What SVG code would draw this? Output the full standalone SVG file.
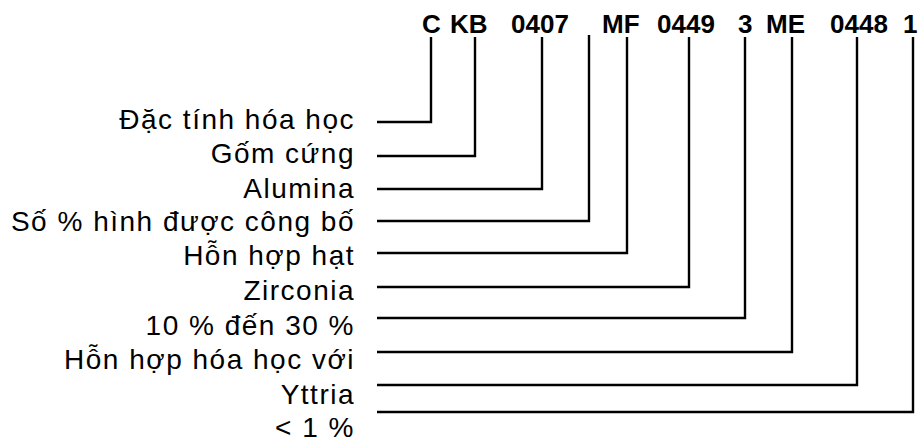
<svg xmlns="http://www.w3.org/2000/svg" width="919" height="443" viewBox="0 0 919 443">
  <style>
    .code { font-family: "Liberation Sans", Arial, sans-serif; font-size: 26px; font-weight: bold; fill: #000; }
    .lbl { font-family: "Liberation Sans", Arial, sans-serif; font-size: 28px; fill: #000; letter-spacing: 1.5px; text-anchor: end; }
    .wire { fill: none; stroke: #000; stroke-width: 2.4; stroke-linejoin: miter; }
  </style>
  <rect width="919" height="443" fill="#fff"/>

  <!-- designation code segments -->
  <g id="code">
    <text class="code" x="422" y="33">C</text>
    <text class="code" x="450" y="33">KB</text>
    <text class="code" x="511" y="33">0407</text>
    <text class="code" x="602" y="33">MF</text>
    <text class="code" x="657" y="33">0449</text>
    <text class="code" x="738" y="33">3</text>
    <text class="code" x="766" y="33">ME</text>
    <text class="code" x="830" y="33">0448</text>
    <text class="code" x="903" y="33">1</text>
  </g>

  <!-- meaning labels -->
  <g id="n1"><text class="lbl" x="355" y="129">Đặc tính hóa học</text></g>
  <g id="n2"><text class="lbl" x="355" y="163">Gốm cứng</text></g>
  <g id="n3"><text class="lbl" x="355" y="198">Alumina</text></g>
  <g id="n4"><text class="lbl" x="355" y="231">Số % hình được công bố</text></g>
  <g id="n5"><text class="lbl" x="355" y="265">Hỗn hợp hạt</text></g>
  <g id="n6"><text class="lbl" x="355" y="300">Zirconia</text></g>
  <g id="n7"><text class="lbl" x="355" y="335">10 % đến 30 %</text></g>
  <g id="n8"><text class="lbl" x="355" y="369">Hỗn hợp hóa học với</text></g>
  <g id="n9"><text class="lbl" x="355" y="404">Yttria</text></g>
  <g id="n10"><text class="lbl" x="355" y="437">&lt; 1 %</text></g>

  <!-- elbow connectors from each code segment to its label -->
  <g id="connectors" class="wire">
    <path d="M377 122 H431 V37"/>
    <path d="M377 156 H475 V37"/>
    <path d="M377 189 H542 V37"/>
    <path d="M377 221 H589 V35"/>
    <path d="M377 253 H627 V37"/>
    <path d="M377 287 H689 V37"/>
    <path d="M377 318 H745 V37"/>
    <path d="M377 352 H792 V37"/>
    <path d="M377 385 H857 V37"/>
    <path d="M377 412 H913 V37"/>
  </g>
</svg>
